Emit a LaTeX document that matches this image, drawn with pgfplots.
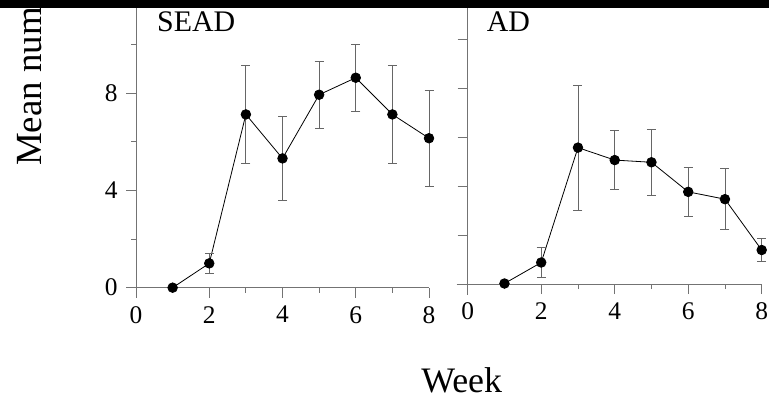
\documentclass[border=0pt]{standalone}
\usepackage{pgfplots}
\pgfplotsset{compat=1.18}
\usepackage{fontspec}
\setmainfont{Liberation Serif}
\begin{document}
\begin{tikzpicture}
\useasboundingbox (0bp,0bp) rectangle (769bp,397bp);
\clip (0bp,0bp) rectangle (769bp,397bp);
\pgfplotsset{
 panel/.style={
  scale only axis, axis lines=middle,
  axis line style={-, draw=black!55, line width=0.8bp},
  anchor=south west,
  xtick={0,2,4,6,8}, minor xtick={1,3,5,7},
  tick style={draw=black!55, line width=0.8bp},
  tick align=outside,
  major tick length=10bp, minor tick length=5bp,
  hide obscured x ticks=false, hide obscured y ticks=false,
  ticklabel style={font=\fontsize{25.5}{25.5}\selectfont},
  xticklabel style={yshift=-5bp},
  yticklabel style={xshift=-5bp},
  /pgf/number format/assume math mode=true,
  clip=false,
 },
 ser/.style={black, line width=0.8bp, mark=*, mark size=4.8bp,
   mark options={fill=black, draw=black},
   error bars/.cd, y dir=both, y explicit,
   error bar style={draw=black!60, line width=0.8bp},
   error mark options={rotate=90, mark size=4.5bp, draw=black!60, line width=0.8bp}}
}
\begin{axis}[panel, at={(126.85bp,100.1bp)}, width=302.15bp, height=288.65bp,
  xmin=-0.25, xmax=8, ymin=-0.38, ymax=11.5,
  ytick={0,4,8}, minor ytick={2,6,10}]
\addplot[ser] coordinates {
 (1,0) +- (0,0)
 (2,1.0) +- (0,0.42)
 (3,7.13) +- (0,2.02)
 (4,5.32) +- (0,1.73)
 (5,7.94) +- (0,1.39)
 (6,8.64) +- (0,1.38)
 (7,7.13) +- (0,2.01)
 (8,6.15) +- (0,1.97)
};
\end{axis}
\begin{axis}[panel, at={(456.7bp,102bp)}, width=305bp, height=286.7bp,
  xmin=-0.3, xmax=8, ymin=-0.44, ymax=11.29,
  ytick={0,2,4,6,8,10}, yticklabels={}]
\addplot[ser] coordinates {
 (1,0.03) +- (0,0)
 (2,0.89) +- (0,0.6)
 (3,5.59) +- (0,2.55)
 (4,5.08) +- (0,1.22)
 (5,4.99) +- (0,1.36)
 (6,3.78) +- (0,1.02)
 (7,3.48) +- (0,1.25)
 (8,1.40) +- (0,0.47)
};
\end{axis}
\node[anchor=base west, inner sep=0, font=\fontsize{30}{30}\selectfont] at (157bp,365bp) {SEAD};
\node[anchor=base west, inner sep=0, font=\fontsize{30}{30}\selectfont] at (486.7bp,365bp) {AD};
\node[anchor=base west, rotate=90, inner sep=0, font=\fontsize{37}{37}\selectfont] at (41bp,231bp) {Mean number};
\node[anchor=base, inner sep=0, font=\fontsize{36}{36}\selectfont] at (461.7bp,5bp) {Week};
\fill[black] (0bp,389bp) rectangle (769bp,397bp);
\end{tikzpicture}
\end{document}
